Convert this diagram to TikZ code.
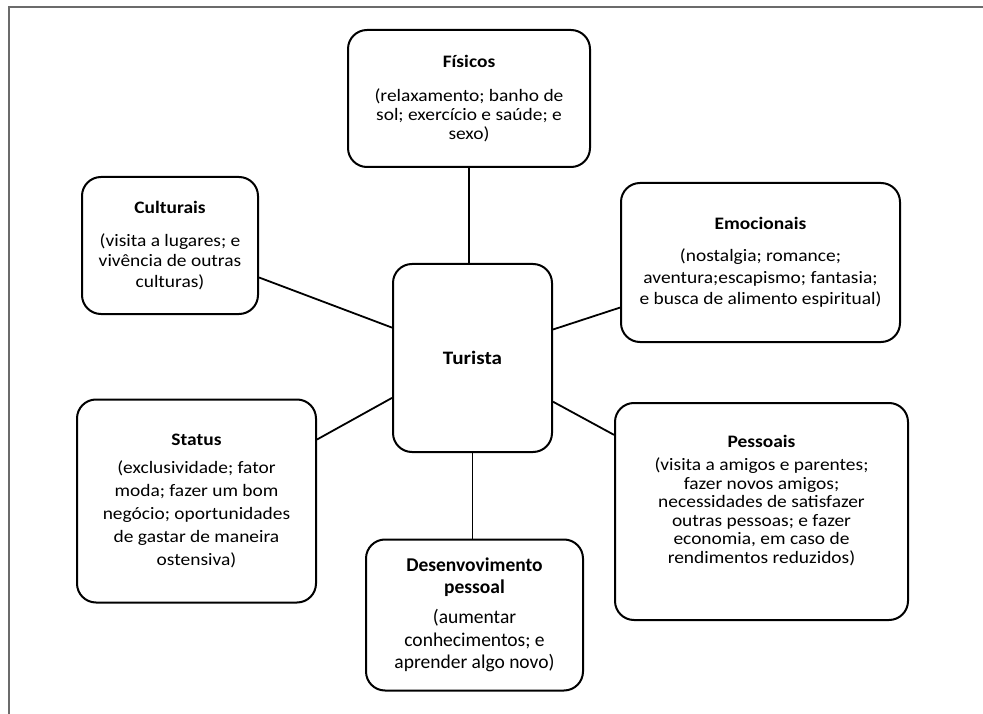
\documentclass[tikz,border=0pt]{standalone}
\usepackage{fontspec}
\setmainfont[FakeStretch=1.11]{Carlito}
\newfontfamily\narrowfont[FakeStretch=1.0]{Carlito}
\usetikzlibrary{calc}
\tikzset{
  box/.style={draw=black, line width=2pt, rounded corners=19pt, align=center, inner sep=0pt},
  link/.style={draw=black, line width=1.8pt},
  frame/.style={draw=black!58, line width=1.2pt}
}
\newcommand{\fs}[1]{\fontsize{17.5}{#1}\selectfont}
\begin{document}
\begin{tikzpicture}[x=1pt,y=-1pt]
\useasboundingbox (0,0) rectangle (983,714);
\draw[frame] (9,714) -- (9,7) -- (983,7);
\node[box, minimum width=242pt, minimum height=137pt, font=\fs{18.8}] (fis) at (469,98.5)
  {\textbf{Físicos}\\[15.5pt](relaxamento; banho de\\sol; exercício e saúde; e\\sexo)};
\node[box, minimum width=176pt, minimum height=137pt, font=\fs{20.5}] (cul) at (170,245.5)
  {\textbf{Culturais}\\[12.5pt](visita a lugares; e\\vivência de outras\\culturas)};
\node[box, minimum width=279pt, minimum height=159pt, font=\fs{21.5}] (emo) at (760.5,262.5)
  {\textbf{Emocionais}\\[10.5pt](nostalgia; romance;\\aventura;escapismo; fantasia;\\e busca de alimento espiritual)};
\node[box, minimum width=159pt, minimum height=188pt, font=\fontsize{19}{23}\selectfont] (tur) at (472.5,358)
  {\textbf{Turista}};
\node[box, minimum width=239pt, minimum height=203pt, font=\fs{23}] (sta) at (196.5,501)
  {\textbf{Status}\\[5pt](exclusividade; fator\\moda; fazer um bom\\negócio; oportunidades\\de gastar de maneira\\ostensiva)};
\node[box, minimum width=217pt, minimum height=151pt, font=\narrowfont\fontsize{19.5}{22.5}\selectfont] (des) at (474.5,615)
  {\textbf{Desenvovimento}\\\textbf{pessoal}\\[7.5pt](aumentar\\conhecimentos; e\\aprender algo novo)};
\node[box, minimum width=293pt, minimum height=217pt,
  label={[align=center, font=\fs{18.5}, yshift=11pt]center:{\textbf{Pessoais}\\[5pt](visita a amigos e parentes;\\fazer novos amigos;\\necessidades de satisfazer\\outras pessoas; e fazer\\economia, em caso de\\rendimentos reduzidos)}}] (pes) at (761.5,511.5) {};
\draw[link] (fis.south) -- (fis.south |- tur.north);
\draw[link] (tur.south) -- (tur.south |- des.north);
\draw[link] ($(cul.north east)!0.73!(cul.south east)$) -- ($(tur.north west)!0.34!(tur.south west)$);
\draw[link] ($(sta.north east)!0.2!(sta.south east)$) -- ($(tur.north west)!0.71!(tur.south west)$);
\draw[link] ($(tur.north east)!0.35!(tur.south east)$) -- ($(emo.north west)!0.78!(emo.south west)$);
\draw[link] ($(tur.north east)!0.73!(tur.south east)$) -- ($(pes.north west)!0.15!(pes.south west)$);
\end{tikzpicture}
\end{document}
